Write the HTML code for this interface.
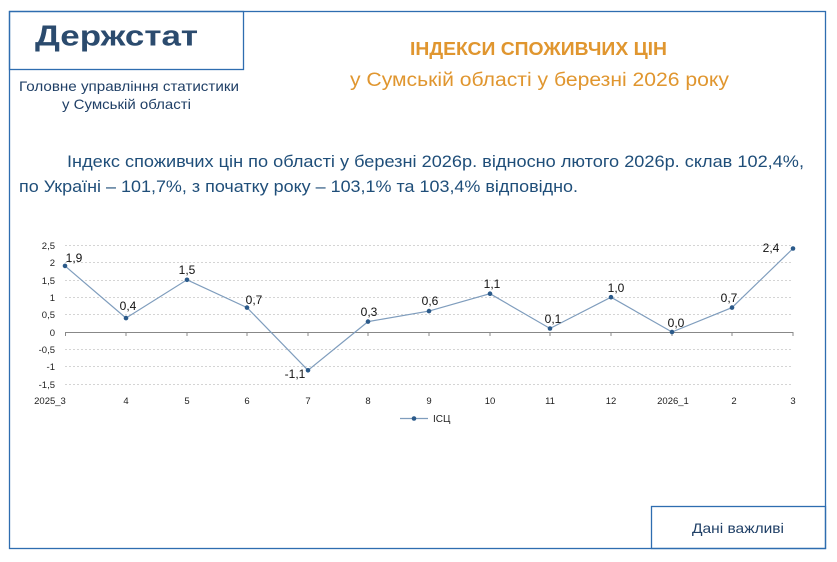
<!DOCTYPE html>
<html><head><meta charset="utf-8"><style>
html,body{margin:0;padding:0;background:#fff;}
svg{display:block;font-family:"Liberation Sans",sans-serif;}
</style></head><body>
<svg width="837" height="562" viewBox="0 0 837 562">
<rect x="9.5" y="11.5" width="816" height="537" fill="none" stroke="#2E6DB0" stroke-width="1.3"/>
<rect x="9.5" y="11.5" width="234" height="58" fill="none" stroke="#2E6DB0" stroke-width="1.3"/>
<rect x="651.5" y="506.5" width="174" height="42" fill="none" stroke="#2E6DB0" stroke-width="1.3"/>
<text x="35" y="45.5" font-size="29" font-weight="bold" fill="#2B4B6E" textLength="163" lengthAdjust="spacingAndGlyphs">Держстат</text>
<text x="19" y="91" font-size="14" fill="#1F3F66" textLength="220" lengthAdjust="spacingAndGlyphs">Головне управління статистики</text>
<text x="62" y="109" font-size="14" fill="#1F3F66" textLength="129" lengthAdjust="spacingAndGlyphs">у Сумській області</text>
<text x="410" y="55" font-size="18" font-weight="bold" fill="#E0962F" textLength="257" lengthAdjust="spacingAndGlyphs">ІНДЕКСИ СПОЖИВЧИХ ЦІН</text>
<text x="350" y="86" font-size="19" fill="#E0962F" textLength="379" lengthAdjust="spacingAndGlyphs">у Сумській області у березні 2026 року</text>
<text x="67" y="167" font-size="17" fill="#1F4E79" textLength="737" lengthAdjust="spacingAndGlyphs">Індекс споживчих цін по області у березні 2026р. відносно лютого 2026р. склав 102,4%,</text>
<text x="19" y="192" font-size="17" fill="#1F4E79" textLength="559" lengthAdjust="spacingAndGlyphs">по Україні – 101,7%, з початку року – 103,1% та 103,4% відповідно.</text>
<g stroke="#D4D4D4" stroke-dasharray="2,2" stroke-width="1">
<line x1="65" x2="793" y1="245.5" y2="245.5"/><line x1="65" x2="793" y1="262.5" y2="262.5"/>
<line x1="65" x2="793" y1="280.5" y2="280.5"/><line x1="65" x2="793" y1="297.5" y2="297.5"/>
<line x1="65" x2="793" y1="314.5" y2="314.5"/><line x1="65" x2="793" y1="349.5" y2="349.5"/>
<line x1="65" x2="793" y1="366.5" y2="366.5"/><line x1="65" x2="793" y1="384.5" y2="384.5"/>
</g>
<line x1="65" x2="793" y1="332.5" y2="332.5" stroke="#888" stroke-width="1"/>
<g stroke="#888">
<line x1="65.5" x2="65.5" y1="332" y2="336"/><line x1="126" x2="126" y1="332" y2="336"/><line x1="187" x2="187" y1="332" y2="336"/><line x1="247" x2="247" y1="332" y2="336"/><line x1="308" x2="308" y1="332" y2="336"/><line x1="368" x2="368" y1="332" y2="336"/><line x1="429" x2="429" y1="332" y2="336"/><line x1="490" x2="490" y1="332" y2="336"/><line x1="550" x2="550" y1="332" y2="336"/><line x1="611" x2="611" y1="332" y2="336"/><line x1="672" x2="672" y1="332" y2="336"/><line x1="732" x2="732" y1="332" y2="336"/><line x1="793" x2="793" y1="332" y2="336"/>
</g>
<g font-size="9.5" fill="#222" text-anchor="end">
<text x="55" y="249">2,5</text><text x="55" y="266">2</text><text x="55" y="284">1,5</text><text x="55" y="301">1</text><text x="55" y="318">0,5</text><text x="55" y="336">0</text><text x="55" y="353">-0,5</text><text x="55" y="370">-1</text><text x="55" y="388">-1,5</text>
</g>
<g font-size="9.5" fill="#222" text-anchor="middle">
<text x="50" y="404">2025_3</text><text x="126" y="404">4</text><text x="187" y="404">5</text><text x="247" y="404">6</text><text x="308" y="404">7</text><text x="368" y="404">8</text><text x="429" y="404">9</text><text x="490" y="404">10</text><text x="550" y="404">11</text><text x="611" y="404">12</text><text x="673" y="404">2026_1</text><text x="734" y="404">2</text><text x="793" y="404">3</text>
</g>
<polyline fill="none" stroke="#7F9DBD" stroke-width="1.2" points="65,265.9 126,318.1 187,279.8 247,307.6 308,370.3 368,321.6 429,311.1 490,293.7 550,328.5 611,297.2 672,332 732,307.6 793,248.5"/>
<g fill="#2B5A8A">
<circle cx="65" cy="265.9" r="2.3"/><circle cx="126" cy="318.1" r="2.3"/><circle cx="187" cy="279.8" r="2.3"/><circle cx="247" cy="307.6" r="2.3"/><circle cx="308" cy="370.3" r="2.3"/><circle cx="368" cy="321.6" r="2.3"/><circle cx="429" cy="311.1" r="2.3"/><circle cx="490" cy="293.7" r="2.3"/><circle cx="550" cy="328.5" r="2.3"/><circle cx="611" cy="297.2" r="2.3"/><circle cx="672" cy="332" r="2.3"/><circle cx="732" cy="307.6" r="2.3"/><circle cx="793" cy="248.5" r="2.3"/>
</g>
<g font-size="12" fill="#111" text-anchor="middle">
<text x="74" y="262">1,9</text><text x="128" y="310">0,4</text><text x="187" y="274">1,5</text><text x="254" y="304">0,7</text><text x="295" y="378">-1,1</text><text x="369" y="316">0,3</text><text x="430" y="305">0,6</text><text x="492" y="288">1,1</text><text x="553" y="323">0,1</text><text x="616" y="292">1,0</text><text x="676" y="327">0,0</text><text x="729" y="302">0,7</text><text x="771" y="252">2,4</text>
</g>
<line x1="400" x2="428" y1="418.5" y2="418.5" stroke="#7F9DBD" stroke-width="1.2"/>
<circle cx="414" cy="418.5" r="2.3" fill="#2B5A8A"/>
<text x="433" y="422" font-size="10" fill="#222">ІСЦ</text>
<text x="738" y="533" font-size="14" fill="#1F3F66" text-anchor="middle" textLength="92" lengthAdjust="spacingAndGlyphs">Дані важливі</text>
</svg>
</body></html>
